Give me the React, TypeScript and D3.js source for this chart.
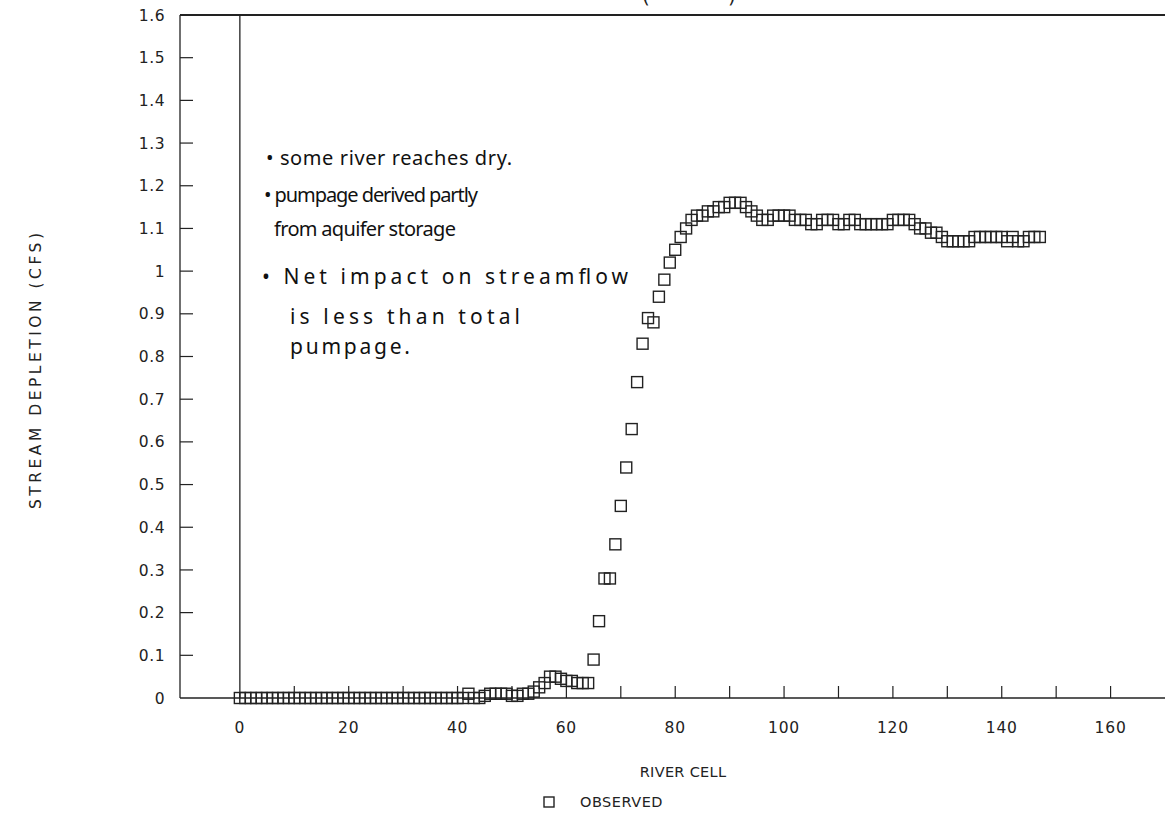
import React from "react";
import * as d3 from "d3";

const riverCells: number[] = Array.from({ length: 148 }, (_, i) => i);

const depletion: number[] = [
  // 0-19
  0, 0, 0, 0, 0, 0, 0, 0, 0, 0, 0, 0, 0, 0, 0, 0, 0, 0, 0, 0,
  // 20-41
  0, 0, 0, 0, 0, 0, 0, 0, 0, 0, 0, 0, 0, 0, 0, 0, 0, 0, 0, 0, 0, 0,
  // 42-64
  0.01, 0, 0, 0.005, 0.01, 0.01, 0.01, 0.01, 0.005, 0.005, 0.01, 0.01, 0.015,
  0.025, 0.035, 0.05, 0.05, 0.045, 0.04, 0.04, 0.035, 0.035, 0.035,
  // 65-81
  0.09, 0.18, 0.28, 0.28, 0.36, 0.45, 0.54, 0.63, 0.74, 0.83, 0.89, 0.88, 0.94,
  0.98, 1.02, 1.05, 1.08,
  // 82-101
  1.1, 1.12, 1.13, 1.13, 1.14, 1.14, 1.15, 1.15, 1.16, 1.16, 1.16, 1.15, 1.14,
  1.13, 1.12, 1.12, 1.13, 1.13, 1.13, 1.13,
  // 102-124
  1.12, 1.12, 1.12, 1.11, 1.11, 1.12, 1.12, 1.12, 1.11, 1.11, 1.12, 1.12, 1.11,
  1.11, 1.11, 1.11, 1.11, 1.11, 1.12, 1.12, 1.12, 1.12, 1.11,
  // 125-147
  1.1, 1.1, 1.09, 1.09, 1.08, 1.07, 1.07, 1.07, 1.07, 1.07, 1.08, 1.08, 1.08,
  1.08, 1.08, 1.08, 1.07, 1.08, 1.07, 1.07, 1.08, 1.08, 1.08,
];

const yTickValues: number[] = [0, 0.1, 0.2, 0.3, 0.4, 0.5, 0.6, 0.7, 0.8, 0.9, 1, 1.1, 1.2, 1.3, 1.4, 1.5, 1.6];
const xLabelValues: number[] = [0, 20, 40, 60, 80, 100, 120, 140, 160];
const xMinorTicks: number[] = [10, 20, 30, 40, 50, 60, 70, 80, 90, 100, 110, 120, 130, 140, 150, 160];

const notes: string[] = [
  "• some river reaches dry.",
  "• pumpage derived partly",
  "from aquifer storage",
  "• Net impact on streamflow",
  "is less than total",
  "pumpage.",
];

const W = 1165;
const H = 818;
const left = 180;
const right = 1165;
const top = 15;
const bottom = 698;
const ink = "#222";
const font = "'DejaVu Sans', 'Liberation Sans', sans-serif";
const hand = "'Noto Sans', 'DejaVu Sans', sans-serif";

export default function App() {
  const x = d3.scaleLinear().domain([-11, 170]).range([left, right]);
  const y = d3.scaleLinear().domain([0, 1.6]).range([bottom, top]);
  const sq = 11;

  const yFmt = (v: number) => (v === 0 || v === 1 ? String(v) : d3.format(".1f")(v));

  const noteLayout = [
    { x: 266, y: 165, len: 246, size: 20 },
    { x: 264, y: 202, len: 214, size: 20 },
    { x: 274, y: 236, len: 182, size: 20 },
    { x: 262, y: 284, len: 366, size: 21 },
    { x: 290, y: 324, len: 230, size: 21 },
    { x: 290, y: 354, len: 120, size: 21 },
  ];

  return (
    <svg
      width={W}
      height={H}
      style={{ position: "absolute", left: 0, top: 0, background: "#fff" }}
    >
      <rect x={0} y={0} width={W} height={H} fill="#fff" />
      {/* clipped title remnants */}
      <text x={642} y={3} fontFamily={font} fontSize={20} fill={ink}>(</text>
      <text x={728} y={3} fontFamily={font} fontSize={20} fill={ink}>)</text>

      {/* frame */}
      <line x1={left} x2={right} y1={top} y2={top} stroke={ink} strokeWidth={1.8} />
      <line x1={left} x2={left} y1={top} y2={bottom} stroke={ink} strokeWidth={1.3} />
      <line x1={left} x2={right} y1={bottom} y2={bottom} stroke={ink} strokeWidth={1.3} />
      <line x1={x(0)} x2={x(0)} y1={top} y2={bottom} stroke={ink} strokeWidth={1.3} />

      {/* y ticks */}
      {yTickValues.map((v) => (
        <g key={"y" + v}>
          {v > 0 && v < 1.6 && (
            <line x1={left} x2={left + 13} y1={y(v)} y2={y(v)} stroke={ink} strokeWidth={1.2} />
          )}
          <text
            x={165}
            y={y(v)}
            dy="0.36em"
            textAnchor="end"
            fontFamily={font}
            fontSize={15.5}
            letterSpacing={0.5}
            fill={ink}
          >
            {yFmt(v)}
          </text>
        </g>
      ))}

      {/* x ticks */}
      {xMinorTicks.map((v) => (
        <line key={"xt" + v} x1={x(v)} x2={x(v)} y1={bottom} y2={bottom - 12} stroke={ink} strokeWidth={1.2} />
      ))}
      {xLabelValues.map((v) => (
        <text
          key={"xl" + v}
          x={x(v)}
          y={733}
          textAnchor="middle"
          fontFamily={font}
          fontSize={15.5}
          letterSpacing={0.8}
          fill={ink}
        >
          {v}
        </text>
      ))}

      {/* axis titles */}
      <text x={683} y={777} textAnchor="middle" fontFamily={font} fontSize={14.5} letterSpacing={0.3} fill={ink}>
        RIVER CELL
      </text>
      <text
        transform={`translate(41, 371) rotate(-90)`}
        textAnchor="middle"
        fontFamily={font}
        fontSize={15.5}
        fill={ink}
        textLength={276}
        lengthAdjust="spacing"
      >
        STREAM DEPLETION (CFS)
      </text>

      {/* legend */}
      <rect x={544} y={797} width={10} height={10} fill="none" stroke={ink} strokeWidth={1.4} />
      <text x={580} y={807} fontFamily={font} fontSize={14.5} letterSpacing={0.5} fill={ink}>
        OBSERVED
      </text>

      {/* handwritten notes */}
      {notes.map((t, i) => (
        <text
          key={"n" + i}
          x={noteLayout[i].x}
          y={noteLayout[i].y}
          fontFamily={hand}
          fontSize={noteLayout[i].size}
          fill="#111"
          textLength={noteLayout[i].len}
          lengthAdjust="spacing"
        >
          {t}
        </text>
      ))}

      {/* data */}
      {riverCells.map((c, i) => (
        <rect
          key={"p" + c}
          x={x(c) - sq / 2}
          y={y(depletion[i]) - sq / 2}
          width={sq}
          height={sq}
          fill="none"
          stroke={ink}
          strokeWidth={1.4}
        />
      ))}
    </svg>
  );
}
